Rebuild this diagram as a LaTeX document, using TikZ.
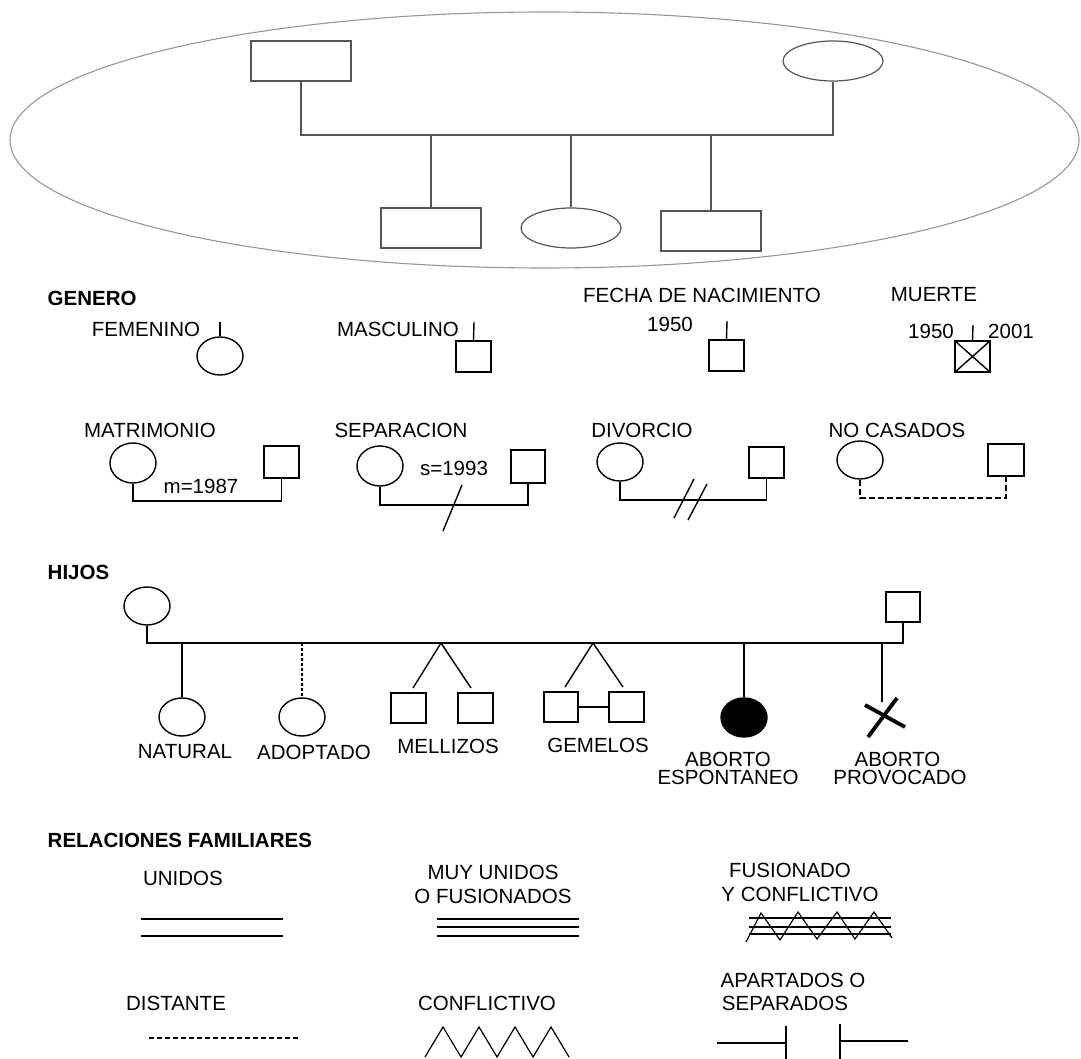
\documentclass[tikz,border=0pt]{standalone}
\usepackage{fontspec}
\setmainfont{Liberation Sans}
\usetikzlibrary{shapes.geometric}
\definecolor{ringcol}{RGB}{150,150,150}
\definecolor{topcol}{RGB}{85,85,85}
\begin{document}
\begin{tikzpicture}[x=1pt,y=-1pt,line width=1.4pt,
  every node/.style={inner sep=0pt,font=\fontsize{20.5}{22}\selectfont},
  msq/.style={draw,rectangle,minimum width=35pt,minimum height=31pt},
  fcirc/.style={draw,ellipse,minimum width=46pt,minimum height=38pt},
  head/.style={anchor=west,font=\fontsize{20.5}{22}\selectfont\bfseries},
  topline/.style={draw=topcol,line width=1.2pt},
  topsq/.style={topline,rectangle,minimum width=100pt,minimum height=40pt},
  topcirc/.style={topline,ellipse,minimum width=100pt,minimum height=40pt},
  adash/.style={dash pattern=on 3pt off 2pt},
  ndash/.style={dash pattern=on 6pt off 3pt},
  ddash/.style={dash pattern=on 5pt off 3pt}]
\useasboundingbox (0,0) rectangle (1081,1059);

% ---------------- top family inside ellipse
\node[draw=ringcol,line width=1.1pt,ellipse,minimum width=1069pt,minimum height=256pt] (ring) at (544.5,140) {};
\node[topsq] (tf) at (301,61) {};
\node[topcirc] (tm) at (833,61) {};
\node[topsq] (tc1) at (431,228) {};
\node[topcirc] (tc2) at (571,228) {};
\node[topsq] (tc3) at (711,231) {};
\coordinate (tl) at (301,135);
\coordinate (tr) at (833,135);
\draw[topline] (tf.south) -- (tl) -- (tr) -- (tm.south);
\draw[topline] (tc1.north |- tl) -- (tc1.north);
\draw[topline] (tc2.north |- tl) -- (tc2.north);
\draw[topline] (tc3.north |- tl) -- (tc3.north);

% ---------------- GENERO
\node[head] (hgen) at (47,298) {GENERO};
\node (tfem) at (146,329) {FEMENINO};
\node[fcirc] (gfem) at (220,356) {};
\coordinate (kfem) at (220,322);
\draw (kfem) -- (gfem.north);
\node (tmas) at (398,329) {MASCULINO};
\node[msq] (gmas) at (473.5,356.5) {};
\coordinate (kmas) at (474,322);
\draw (kmas) -- (gmas.north);
\node (tfn) at (702,295) {FECHA DE NACIMIENTO};
\node (tfn1) at (670,324) {1950};
\node[msq] (gfn) at (726.5,355.5) {};
\coordinate (kfn) at (727,321);
\draw (kfn) -- (gfn.north);
\node (tmu) at (934,295) {MUERTE};
\node (tmu1) at (931,331) {1950};
\node (tmu2) at (1011,331) {2001};
\node[msq] (gmu) at (972.5,356.5) {};
\coordinate (kmu) at (973,325);
\draw (kmu) -- (gmu.north);
\draw (gmu.north west) -- (gmu.south east) (gmu.north east) -- (gmu.south west);

% ---------------- MATRIMONIO
\node (tmat) at (150,430) {MATRIMONIO};
\node[fcirc,minimum height=40pt] (mw) at (133,463) {};
\node[msq,minimum height=32pt] (mh) at (281.5,462) {};
\node (tmy) at (201,486) {m=1987};
\coordinate (mj) at (0,501);
\draw (mw.south) -- (mw.south |- mj) -- (mh.south |- mj) -- (mh.south);

\node (tsep) at (401,430) {SEPARACION};
\node[fcirc,minimum height=40pt] (sw) at (380,466) {};
\node[msq,minimum width=34pt,minimum height=33pt] (sh) at (528,466.5) {};
\node (tsy) at (454,468) {s=1993};
\coordinate (sj) at (0,505);
\draw (sw.south) -- (sw.south |- sj) -- (sh.south |- sj) -- (sh.south);
\coordinate (s1a) at (462,485);
\coordinate (s1b) at (443,531);
\draw (s1a) -- (s1b);

\node (tdiv) at (642,430) {DIVORCIO};
\node[fcirc] (dw) at (620,462) {};
\node[msq] (dh) at (766.5,462.5) {};
\coordinate (dj) at (0,500);
\draw (dw.south) -- (dw.south |- dj) -- (dh.south |- dj) -- (dh.south);
\coordinate (d1a) at (694,479);
\coordinate (d1b) at (674,518);
\coordinate (d2a) at (707,484);
\coordinate (d2b) at (688,520);
\draw (d1a) -- (d1b) (d2a) -- (d2b);

\node (tnc) at (897,430) {NO CASADOS};
\node[fcirc] (nw) at (860,460) {};
\node[msq,minimum width=36pt,minimum height=32pt] (nh) at (1006,460) {};
\coordinate (nj) at (0,498);
\draw[ndash] (nw.south) -- (nw.south |- nj) -- (nh.south |- nj) -- (nh.south);

% ---------------- HIJOS
\node[head] (hhij) at (47,572) {HIJOS};
\node[fcirc] (hm) at (147,606) {};
\node[msq,minimum width=34pt,minimum height=30pt] (hf) at (903,607) {};
\coordinate (hl) at (147,643);
\coordinate (hr) at (903,643);
\draw (hm.south) -- (hl) -- (hr) -- (hf.south);

\node[fcirc] (cnat) at (182,717) {};
\draw (cnat.north |- hl) -- (cnat.north);
\node (tnat) at (185,752) {NATURAL};

\node[fcirc] (cado) at (302,717) {};
\draw[adash] (cado.north |- hl) -- (cado.north);
\node (tado) at (314,752) {ADOPTADO};

\coordinate (amel) at (441,643);
\node[msq,minimum height=30pt] (mel1) at (408.5,708) {};
\node[msq,minimum height=30pt] (mel2) at (475.5,708) {};
\coordinate (mel1t) at (413,688);
\coordinate (mel2t) at (471,688);
\draw (mel1t) -- (amel) -- (mel2t);
\node (tmel) at (448,746) {MELLIZOS};

\coordinate (agem) at (593,643);
\node[msq,minimum width=34pt,minimum height=30pt] (gem1) at (561,707) {};
\node[msq,minimum height=30pt] (gem2) at (626.5,707) {};
\coordinate (gem1t) at (565,687);
\coordinate (gem2t) at (623,687);
\draw (gem1t) -- (agem) -- (gem2t);
\draw (gem1.east) -- (gem2.west);
\node (tgem) at (598,745) {GEMELOS};

\node[fcirc,fill=black,minimum height=39pt] (cesp) at (744,717.5) {};
\draw (cesp.north |- hl) -- (cesp.north);
\node (tesp1) at (728,759) {ABORTO};
\node (tesp2) at (728,777.5) {ESPONTANEO};

\coordinate (cpro) at (882,702);
\draw (cpro |- hl) -- (cpro);
\coordinate (x1a) at (897,698);
\coordinate (x1b) at (868,737);
\coordinate (x2a) at (865,705);
\coordinate (x2b) at (905,727);
\draw[line width=3.8pt] (x1a) -- (x1b) (x2a) -- (x2b);
\node (tpro1) at (897.5,759) {ABORTO};
\node (tpro2) at (900,777.5) {PROVOCADO};

% ---------------- RELACIONES FAMILIARES
\node[head] (hrel) at (47,840) {RELACIONES FAMILIARES};

\node (tuni) at (183,878) {UNIDOS};
\draw (141,919) -- (283,919) (141,936) -- (283,936);

\node (tmuy1) at (493,872) {MUY UNIDOS};
\node (tmuy2) at (493,896) {O FUSIONADOS};
\draw (437,919) -- (579,919) (437,927) -- (579,927) (437,936) -- (579,936);

\node (tfc1) at (790,870) {FUSIONADO};
\node (tfc2) at (800,894) {Y CONFLICTIVO};
\draw (749,918) -- (891,918) (749,927) -- (891,927) (749,934) -- (891,934);
\draw[line width=1.2pt] (746,942) -- (761,913) -- (780,940) -- (798,912) -- (817,939) -- (837,912) -- (855,939) -- (874,912) -- (892,938);

\node (tdis) at (176,1003) {DISTANTE};
\draw[ddash] (149,1038) -- (298,1038);

\node (tcon) at (487,1003) {CONFLICTIVO};
\draw[line width=1.2pt] (425,1057) -- (443,1027) -- (461,1057) -- (479,1027) -- (497,1057) -- (515,1027) -- (533,1057) -- (551,1027) -- (569,1057);

\node (tapa1) at (793,980) {APARTADOS O};
\node (tapa2) at (785,1003) {SEPARADOS};
\draw (717,1043) -- (786,1043) (786,1026) -- (786,1059);
\draw (840,1024) -- (840,1059) (840,1041) -- (908,1041);
\end{tikzpicture}
\end{document}
